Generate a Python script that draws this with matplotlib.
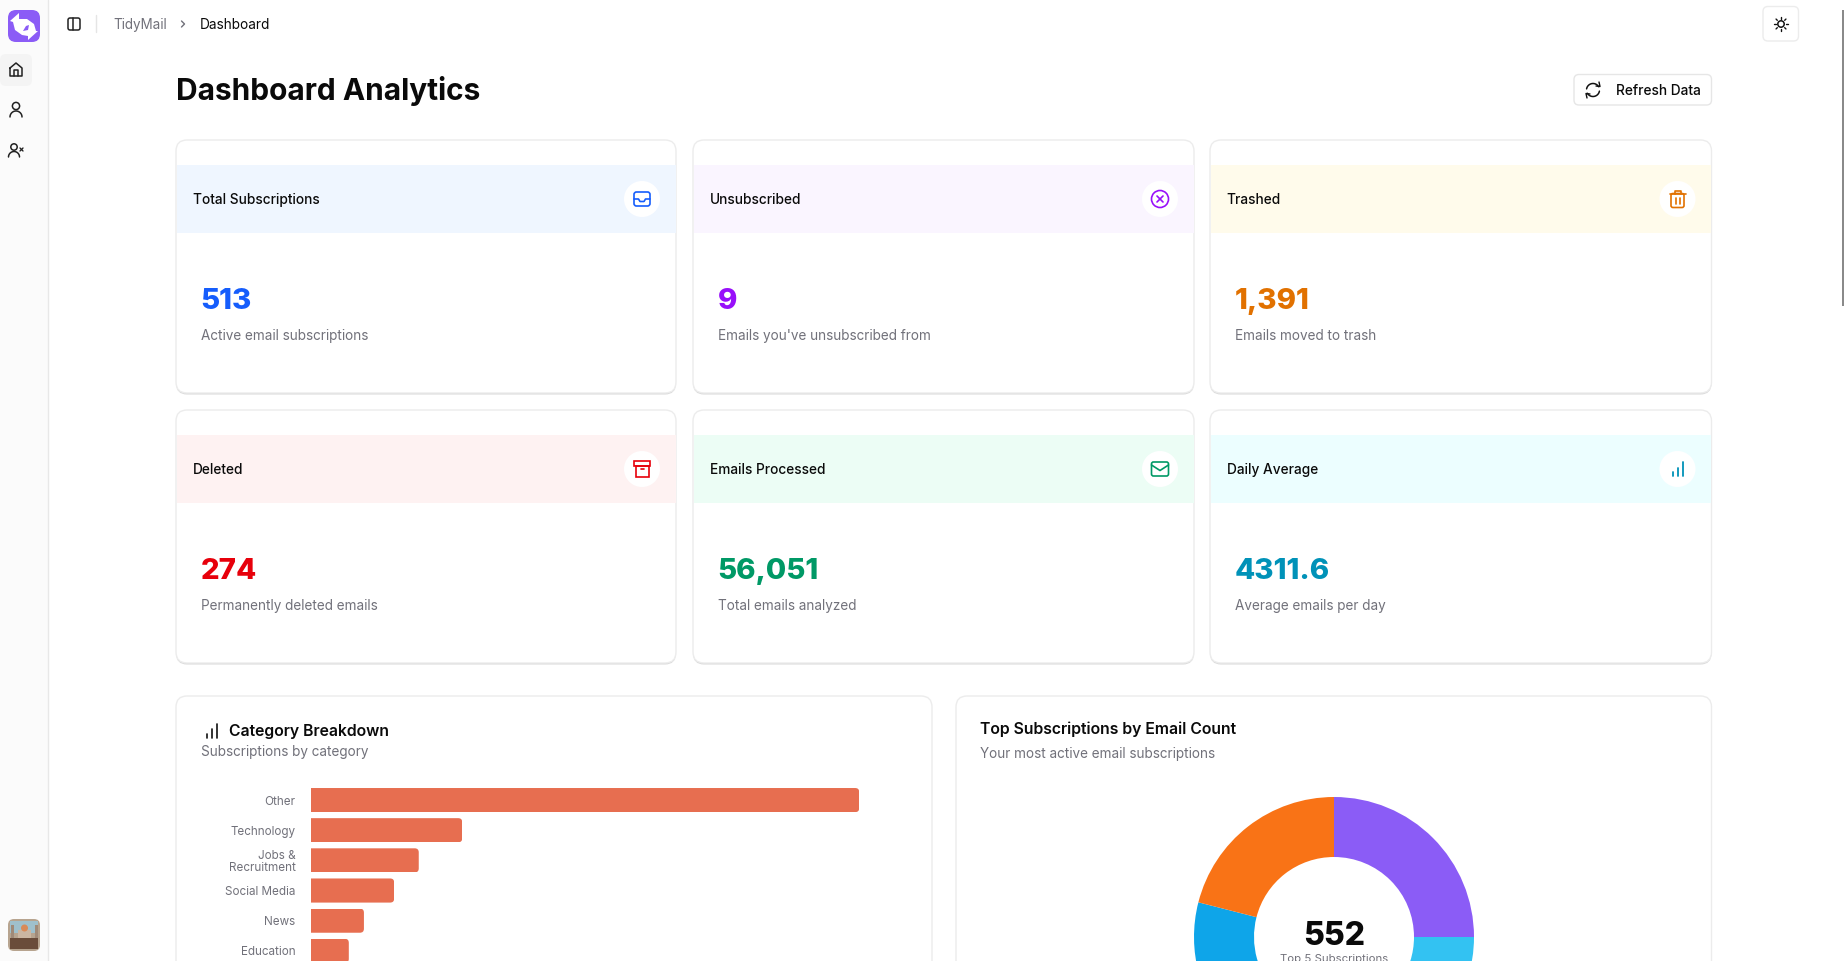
import matplotlib
matplotlib.use('Agg')
import numpy as np
import matplotlib.pyplot as plt
from matplotlib.patches import FancyBboxPatch, Rectangle, Circle, Polygon
from matplotlib.transforms import IdentityTransform

W, H = 1844, 961
plt.rcParams['font.family'] = ['Inter', 'DejaVu Sans']

card_titles = ['Total Subscriptions', 'Unsubscribed', 'Trashed',
               'Deleted', 'Emails Processed', 'Daily Average']
card_values = ['513', '9', '1,391', '274', '56,051', '4311.6']
card_descs = ['Active email subscriptions', "Emails you've unsubscribed from",
              'Emails moved to trash', 'Permanently deleted emails',
              'Total emails analyzed', 'Average emails per day']
card_colors = ['#155dfc', '#9810fa', '#e17100', '#e7000b', '#009966', '#0092b8']
card_bands = ['#eff6ff', '#faf5ff', '#fffbeb', '#fef2f2', '#ecfdf5', '#ecfeff']
card_icons = ['inbox', 'xcircle', 'trash', 'archive', 'mail', 'bars']

categories = ['Other', 'Technology', 'Jobs &\nRecruitment', 'Social Media', 'News', 'Education']
category_counts = [290, 80, 57, 44, 28, 20]

top_names = ['Sub A', 'Sub B', 'Sub C', 'Sub D', 'Sub E']
top_counts = [138, 110, 96, 92, 116]
top_colors = ['#8b5cf6', '#33c2f2', '#10b981', '#0ea5e9', '#f97316']

fig = plt.figure(figsize=(W / 100, H / 100), dpi=100, facecolor='white')
ax = fig.add_axes([0, 0, 1, 1])
ax.set_xlim(0, W)
ax.set_ylim(H, 0)
ax.axis('off')


def rbox(x0, y0, x1, y1, r, fc='white', ec='none', lw=1, z=1):
    p = FancyBboxPatch((x0 + r, y0 + r), x1 - x0 - 2 * r, y1 - y0 - 2 * r,
                       boxstyle='round,pad=%f,rounding_size=%f' % (r, r),
                       fc=fc, ec=ec, lw=lw, zorder=z)
    ax.add_patch(p)
    return p


def line(xs, ys, c='#111111', lw=1.1, z=6):
    ax.plot(xs, ys, color=c, lw=lw, zorder=z, solid_capstyle='round', solid_joinstyle='round')


def txt(x, y, s, size, c='#0a0a0a', w='normal', ha='left', va='center', z=7, **kw):
    return ax.text(x, y, s, fontsize=size, color=c, fontweight=w, ha=ha, va=va, zorder=z, **kw)


def arc(cx, cy, r, a0, a1, c, lw=1.1, z=6):
    t = np.radians(np.linspace(a0, a1, 40))
    line(cx + r * np.cos(t), cy + r * np.sin(t), c, lw, z)


def draw_icon(kind, cx, cy, c):
    if kind == 'inbox':
        rbox(cx - 8, cy - 7, cx + 8, cy + 7, 2.5, fc='none', ec=c, lw=1.2, z=6)
        line([cx - 8, cx - 3.5, cx - 2, cx + 2, cx + 3.5, cx + 8],
             [cy, cy, cy + 2.5, cy + 2.5, cy, cy], c, 1.2)
    elif kind == 'xcircle':
        ax.add_patch(Circle((cx, cy), 8.5, fc='none', ec=c, lw=1.2, zorder=6))
        line([cx - 3, cx + 3], [cy - 3, cy + 3], c, 1.2)
        line([cx - 3, cx + 3], [cy + 3, cy - 3], c, 1.2)
    elif kind == 'trash':
        line([cx - 8, cx + 8], [cy - 5.5, cy - 5.5], c, 1.2)
        rbox(cx - 6.5, cy - 5.5, cx + 6.5, cy + 8.5, 2, fc='none', ec=c, lw=1.2, z=6)
        line([cx - 3, cx - 3, cx + 3, cx + 3], [cy - 5.5, cy - 8.5, cy - 8.5, cy - 5.5], c, 1.2)
        line([cx - 2, cx - 2], [cy - 1, cy + 5], c, 1.2)
        line([cx + 2, cx + 2], [cy - 1, cy + 5], c, 1.2)
    elif kind == 'archive':
        ax.add_patch(Rectangle((cx - 8, cy - 8), 16, 4.5, fc='none', ec=c, lw=1.2, zorder=6))
        ax.add_patch(Rectangle((cx - 6.5, cy - 3.5), 13, 11.5, fc='none', ec=c, lw=1.2, zorder=6))
        line([cx - 1.5, cx + 1.5], [cy, cy], c, 1.2)
    elif kind == 'mail':
        rbox(cx - 8.5, cy - 7, cx + 8.5, cy + 7, 2, fc='none', ec=c, lw=1.2, z=6)
        line([cx - 8.5, cx, cx + 8.5], [cy - 4, cy + 1.5, cy - 4], c, 1.2)
    elif kind == 'bars':
        line([cx - 5, cx - 5], [cy + 7, cy + 3], c, 1.3)
        line([cx, cx], [cy + 7, cy - 1], c, 1.3)
        line([cx + 5, cx + 5], [cy + 7, cy - 7], c, 1.3)


# sidebar
ax.add_patch(Rectangle((0, 0), 48, H, fc='#fbfbfb', ec='none', zorder=0))
line([48, 48], [0, H], '#e8e8e8', 1, 1)
rbox(8, 10, 40, 42, 8, fc='#8b5cf6', z=2)
# logo mark
ax.add_patch(Polygon([[10, 21], [19, 13], [19, 19], [27, 19], [34, 24], [36, 31], [38, 31],
                      [28, 40], [28, 36], [22, 35], [15, 30], [13, 22]],
                     fc='white', ec='none', zorder=3))
ax.add_patch(Polygon([[23, 31], [26, 26], [29, 25], [28, 30]], fc='#8b5cf6', ec='none', zorder=4))
rbox(0, 54, 32, 86, 6, fc='#f4f4f4', z=2)
# home
line([10, 16, 22, 22, 10, 10], [68, 63, 68, 76, 76, 68], '#222222', 1.1)
line([14, 14, 18, 18], [76, 70, 70, 76], '#222222', 1.1)
# user
ax.add_patch(Circle((16, 106), 3.6, fc='none', ec='#222222', lw=1.1, zorder=6))
arc(16, 117, 6, 180, 360, '#222222')
# user-x
ax.add_patch(Circle((14, 147), 3.2, fc='none', ec='#222222', lw=1.1, zorder=6))
arc(14, 157, 5.5, 180, 360, '#222222')
line([20, 23], [148, 151], '#222222', 1.0)
line([20, 23], [151, 148], '#222222', 1.0)
# avatar
rbox(8, 919, 40, 951, 6, fc='#b7a48f', z=2)
ax.add_patch(Rectangle((10, 921), 28, 12, fc='#9fc0cc', zorder=3))
ax.add_patch(Rectangle((18, 930), 13, 8, fc='#cbb6a2', zorder=4))
ax.add_patch(Circle((24.5, 928), 3.5, fc='#d98a58', zorder=4))
ax.add_patch(Rectangle((11, 925), 2.5, 14, fc='#a08a78', zorder=4))
ax.add_patch(Rectangle((35, 925), 2.5, 14, fc='#a08a78', zorder=4))
ax.add_patch(Rectangle((10, 938), 28, 11, fc='#6a4c3a', zorder=4))

# header
rbox(68, 18, 80, 30, 2, fc='none', ec='#222222', lw=1.1, z=6)
line([72.5, 72.5], [18, 30], '#222222', 1.1)
line([96, 96], [15, 32], '#e5e5e5', 1)
txt(113, 25, 'TidyMail', 9.7, c='#71717a')
line([181.5, 184.5, 181.5], [21, 24, 27], '#71717a', 1.0)
txt(200, 25, 'Dashboard', 9.8)
rbox(1763, 6.5, 1798.5, 41, 5, ec='#ececec', lw=1, z=2)
ax.add_patch(Circle((1781, 24), 3.2, fc='none', ec='#111111', lw=1.1, zorder=6))
for a in np.radians(np.arange(0, 360, 45)):
    line([1781 + 5.2 * np.cos(a), 1781 + 7 * np.cos(a)],
         [24 + 5.2 * np.sin(a), 24 + 7 * np.sin(a)], '#111111', 1.0)

txt(176, 91, 'Dashboard Analytics', 21.5, w='bold')
rbox(1574, 74.5, 1711.5, 105, 5, ec='#e6e6e6', lw=1, z=2)
arc(1593, 90, 6.5, 190, 330, '#111111')
arc(1593, 90, 6.5, 10, 150, '#111111')
line([1599, 1600, 1596], [82, 86.5, 86], '#111111', 1.0)
line([1587, 1586, 1590], [98, 93.5, 94], '#111111', 1.0)
txt(1615.5, 91, 'Refresh Data', 9.9, w='medium')

# stat cards
card_x = [(176, 676), (693, 1194), (1210, 1711.5)]
card_y = [140, 410]
for i in range(6):
    x0, x1 = card_x[i % 3]
    y0 = card_y[i // 3]
    rbox(x0, y0 + 1.5, x1, y0 + 254.5, 11, fc='#d8d8d8', z=1)
    rbox(x0, y0, x1, y0 + 253, 11, ec='#ececec', lw=1, z=2)
    ax.add_patch(Rectangle((x0 + 0.5, y0 + 25), x1 - x0 - 1, 68, fc=card_bands[i], ec='none', zorder=3))
    txt(x0 + 16.5, y0 + 60, card_titles[i], 9.85, w='medium')
    ax.add_patch(Circle((x1 - 34, y0 + 59), 18, fc='white', ec='none', zorder=4))
    draw_icon(card_icons[i], x1 - 34, y0 + 59, card_colors[i])
    txt(x0 + 24.5, y0 + 161.5, card_values[i], 21.2, c=card_colors[i], w='heavy')
    txt(x0 + 25, y0 + 196, card_descs[i], 9.75, c='#71717a')

# lower cards
rbox(176, 696, 932, 1000, 11, ec='#ececec', lw=1, z=2)
rbox(956, 696, 1711.5, 1000, 11, ec='#ececec', lw=1, z=2)
line([206.5, 206.5], [734, 738], '#111111', 1.2)
line([211.5, 211.5], [729, 738], '#111111', 1.2)
line([216.5, 216.5], [724, 738], '#111111', 1.2)
txt(229, 731.5, 'Category Breakdown', 11.35, w='semibold')
txt(200.5, 752, 'Subscriptions by category', 9.75, c='#71717a')
txt(980, 729, 'Top Subscriptions by Email Count', 11.35, w='semibold')
txt(980, 754, 'Your most active email subscriptions', 9.75, c='#71717a')

# bar chart
bx0, bx1 = 311, 880
by0 = 785
pitch = 30.15
by1 = by0 + pitch * len(categories)
ax_bar = fig.add_axes([bx0 / W, 1 - by1 / H, (bx1 - bx0) / W, (by1 - by0) / H])
ypos = np.arange(len(categories))
bars = ax_bar.barh(ypos, category_counts, height=0.8, color='#e76e50', zorder=3)
ax_bar.set_ylim(len(categories) - 0.5, -0.5)
ax_bar.set_xlim(0, 301)
ax_bar.set_yticks(ypos)
ax_bar.set_yticklabels(categories, fontsize=8.4, color='#71717a', linespacing=1.0)
ax_bar.tick_params(axis='y', length=0, pad=11)
ax_bar.set_xticks([])
ax_bar.patch.set_alpha(0)
for s in ax_bar.spines.values():
    s.set_visible(False)
fig.canvas.draw()
for b in bars:
    e = b.get_window_extent()
    clip = FancyBboxPatch((e.x0 - 10, e.y0), e.width + 10, e.height,
                          boxstyle='round,pad=0,rounding_size=4', transform=IdentityTransform())
    b.set_clip_path(clip)

# donut
cx, cy, R = 1334, 937, 140
ax_pie = fig.add_axes([(cx - R) / W, 1 - (cy + R) / H, 2 * R / W, 2 * R / H])
ax_pie.pie(top_counts, colors=top_colors, startangle=90, counterclock=False, radius=1,
           wedgeprops=dict(width=60 / 140, edgecolor='none'))
ax_pie.set_xlim(-1, 1)
ax_pie.set_ylim(-1, 1)
txt(1334, 936.5, '552', 23, w='heavy', ha='center')
txt(1334, 959.5, 'Top 5 Subscriptions', 8.2, c='#71717a', ha='center')

# scrollbar
ax.add_patch(Rectangle((1842, 10), 2, 296, fc='#8a8a8a', ec='none', zorder=8))

fig.savefig('out.png', dpi=100)
